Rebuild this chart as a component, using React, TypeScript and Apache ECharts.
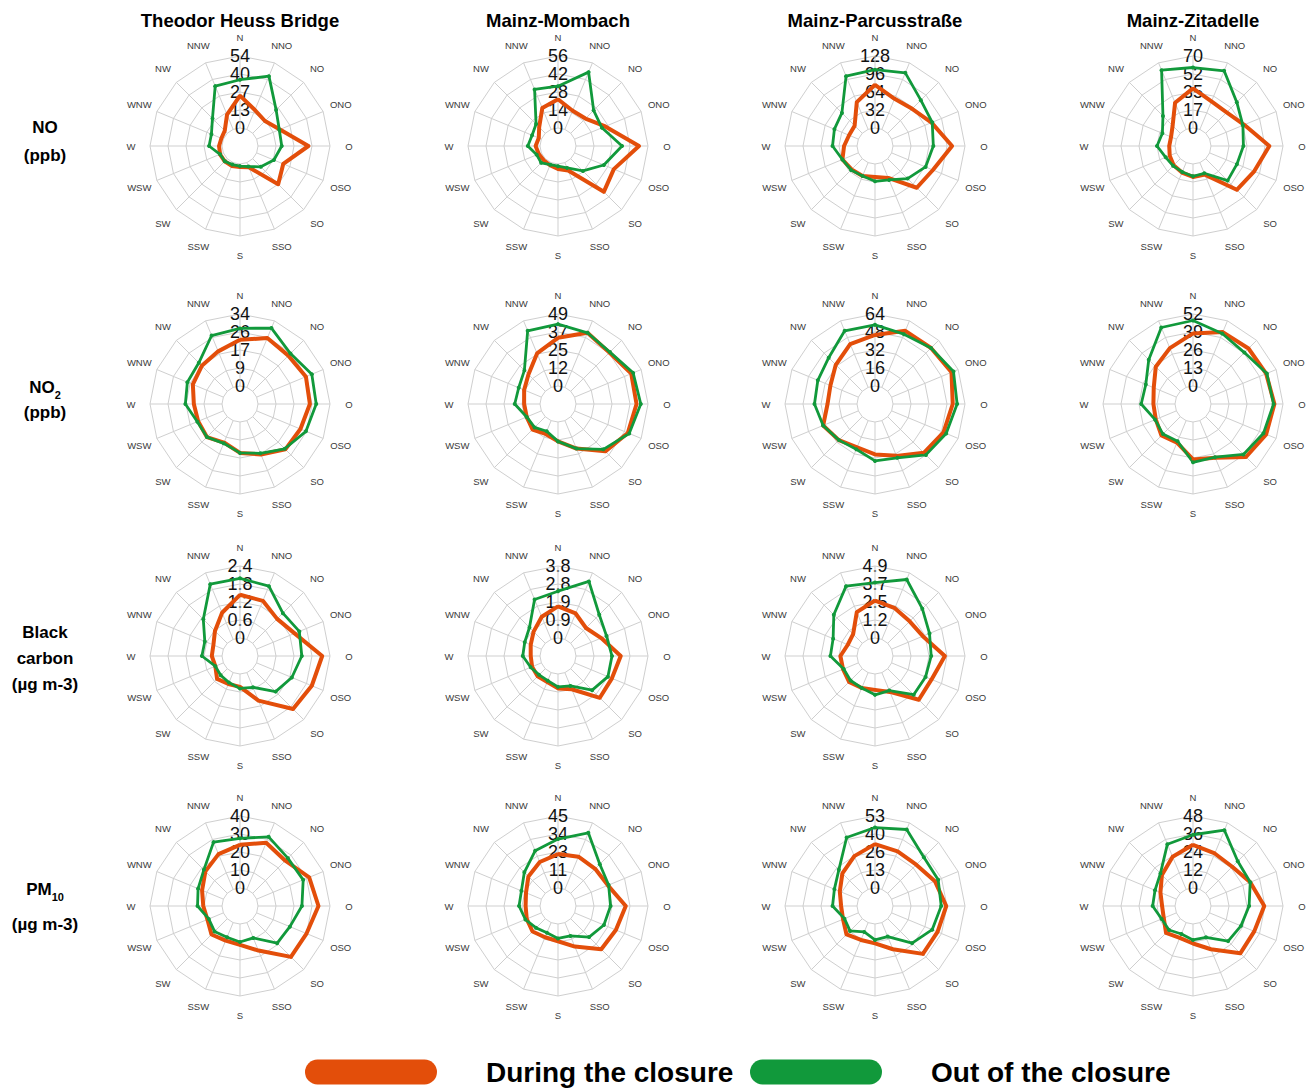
import React, { useEffect, useRef } from 'react';
import * as echarts from 'echarts';

// ---------- categories ----------
const DIRECTIONS = ['N', 'NNO', 'NO', 'ONO', 'O', 'OSO', 'SO', 'SSO', 'S', 'SSW', 'SW', 'WSW', 'W', 'WNW', 'NW', 'NNW'];
const STATIONS = ['Theodor Heuss Bridge', 'Mainz-Mombach', 'Mainz-Parcusstraße', 'Mainz-Zitadelle'];
const SERIES_NAMES = ['During the closure', 'Out of the closure'];

// ---------- NO (ppb) ----------
const noThbTicks = ['0', '13', '27', '40', '54'];
const noThbDuring = [24.3, 15.7, 13.0, 18.9, 37.8, 21.6, 27.0, 3.8, 2.2, 2.7, 2.7, 2.7, 2.2, 1.6, 2.7, 11.9];
const noThbOut = [36.2, 43.2, 24.8, 18.4, 17.8, 14.0, 8.6, 3.2, 1.6, 1.6, 2.7, 2.7, 9.7, 9.7, 15.7, 35.1];
const noMomTicks = ['0', '14', '28', '42', '56'];
const noMomDuring = [22.4, 15.7, 16.2, 25.8, 49.0, 33.0, 36.4, 6.7, 3.9, 2.2, 1.7, 2.2, 3.4, 2.2, 6.7, 17.9];
const noMomOut = [32.5, 48.2, 25.2, 23.0, 35.8, 24.6, 13.4, 4.5, 1.7, 1.7, 4.5, 3.9, 9.5, 7.8, 10.1, 33.6];
const noParTicks = ['0', '32', '64', '96', '128'];
const noParDuring = [76.8, 58.9, 61.4, 76.8, 105.0, 79.4, 73.0, 29.4, 23.0, 25.6, 26.9, 30.7, 23.0, 17.9, 19.2, 52.5];
const noParOut = [103.7, 108.8, 83.2, 78.1, 71.7, 65.3, 49.9, 33.3, 30.7, 25.6, 28.2, 30.7, 43.5, 46.1, 51.2, 102.4];
const noZitTicks = ['0', '17', '35', '52', '70'];
const noZitDuring = [38.5, 29.4, 28.7, 36.4, 56.7, 46.9, 42.7, 12.6, 12.6, 10.5, 9.1, 7.0, 5.6, 5.6, 10.5, 28.0];
const noZitOut = [58.8, 61.6, 42.7, 35.0, 31.5, 28.7, 30.1, 11.2, 11.9, 9.8, 9.8, 11.2, 17.5, 14.7, 23.8, 62.3];

// ---------- NO2 (ppb) ----------
const no2ThbTicks = ['0', '9', '17', '26', '34'];
const no2ThbDuring = [21.8, 25.2, 23.8, 25.2, 24.5, 22.4, 21.8, 17.3, 14.6, 11.2, 13.6, 12.9, 13.3, 15.6, 17.0, 18.4];
const no2ThbOut = [27.2, 30.3, 25.2, 28.2, 27.5, 25.2, 21.4, 16.7, 14.6, 11.6, 13.6, 13.3, 17.3, 18.4, 19.0, 26.5];
const no2MomTicks = ['0', '12', '25', '37', '49'];
const no2MomDuring = [32.8, 40.2, 37.2, 41.7, 41.2, 39.2, 33.3, 20.6, 13.2, 9.8, 12.3, 10.8, 10.8, 12.7, 16.2, 25.0];
const no2MomOut = [42.1, 40.2, 37.7, 43.1, 44.1, 40.2, 31.4, 20.6, 13.2, 7.8, 10.3, 10.8, 17.2, 16.7, 20.1, 41.7];
const no2ParTicks = ['0', '16', '32', '48', '64'];
const no2ParDuring = [45.4, 54.4, 54.4, 57.6, 53.1, 49.9, 45.4, 33.9, 28.8, 25.6, 29.4, 33.9, 26.2, 26.9, 33.3, 41.6];
const no2ParOut = [54.4, 51.2, 54.4, 59.5, 57.0, 52.5, 48.0, 35.8, 34.6, 27.5, 29.4, 33.9, 37.8, 39.0, 42.2, 54.4];
const no2ZitTicks = ['0', '13', '26', '39', '52'];
const no2ZitDuring = [38.0, 43.2, 43.7, 44.2, 45.8, 44.2, 41.1, 29.1, 27.0, 17.2, 19.2, 16.1, 15.6, 17.7, 25.0, 30.7];
const no2ZitOut = [47.3, 42.1, 39.5, 44.7, 45.2, 42.1, 38.5, 28.6, 29.1, 16.1, 17.7, 16.6, 24.4, 23.9, 32.2, 46.8];

// ---------- Black carbon (µg m-3) ----------
const bcThbTicks = ['0', '0.6', '1.2', '1.8', '2.4'];
const bcThbDuring = [1.44, 1.39, 1.15, 1.37, 2.14, 1.99, 1.90, 1.01, 0.43, 0.41, 0.48, 0.29, 0.34, 0.36, 0.58, 0.96];
const bcThbOut = [1.99, 1.92, 1.42, 1.54, 1.46, 1.27, 1.08, 0.53, 0.48, 0.36, 0.31, 0.29, 0.67, 0.67, 1.13, 1.99];
const bcMomTicks = ['0', '0.9', '1.9', '2.8', '3.8'];
const bcMomDuring = [1.67, 1.48, 1.14, 1.52, 2.36, 2.13, 2.17, 0.95, 0.76, 0.53, 0.57, 0.53, 0.49, 0.61, 0.87, 1.29];
const bcMomOut = [2.47, 3.31, 2.13, 1.82, 1.90, 1.90, 1.60, 0.76, 0.68, 0.46, 0.46, 0.61, 0.91, 0.95, 1.18, 2.28];
const bcParTicks = ['0', '1.2', '2.5', '3.7', '4.9'];
const bcParDuring = [2.55, 2.30, 2.11, 2.30, 3.53, 2.94, 2.99, 1.42, 1.08, 1.13, 1.27, 1.13, 1.13, 0.78, 0.88, 2.01];
const bcParOut = [3.77, 4.41, 3.33, 2.79, 2.60, 2.50, 2.50, 1.32, 1.42, 1.13, 1.13, 1.08, 1.81, 1.86, 2.74, 3.92];

// ---------- PM10 (µg m-3) ----------
const pmThbTicks = ['0', '10', '20', '30', '40'];
const pmThbDuring = [24.0, 28.0, 25.6, 31.6, 33.6, 30.0, 30.0, 16.8, 11.6, 10.8, 12.4, 9.6, 10.4, 12.8, 17.2, 21.2];
const pmThbOut = [27.6, 31.6, 27.6, 28.0, 24.4, 20.0, 19.2, 9.2, 10.0, 8.8, 10.0, 8.8, 13.6, 15.2, 18.4, 28.4];
const pmMomTicks = ['0', '11', '23', '34', '45'];
const pmMomDuring = [21.2, 22.1, 21.6, 22.5, 31.1, 27.9, 27.0, 16.2, 10.8, 9.9, 11.3, 9.9, 9.0, 10.4, 14.9, 18.5];
const pmMomOut = [30.6, 38.3, 25.7, 23.0, 21.6, 19.8, 16.2, 9.0, 9.0, 6.8, 8.1, 10.8, 13.1, 13.5, 18.5, 26.1];
const pmParTicks = ['0', '13', '26', '40', '53'];
const pmParDuring = [32.3, 30.2, 29.7, 34.5, 39.2, 36.6, 36.6, 21.2, 14.3, 13.8, 16.4, 12.2, 11.7, 14.8, 20.7, 26.5];
const pmParOut = [44.5, 47.7, 37.6, 37.1, 35.5, 32.3, 25.4, 11.1, 11.7, 7.4, 12.7, 11.1, 18.0, 19.1, 24.4, 41.3];
const pmZitTicks = ['0', '12', '24', '36', '48'];
const pmZitDuring = [28.8, 25.9, 25.0, 29.3, 35.5, 32.2, 32.6, 19.2, 13.0, 11.0, 13.4, 9.1, 8.6, 11.5, 17.3, 23.5];
const pmZitOut = [35.5, 42.7, 30.2, 29.3, 25.4, 22.6, 21.1, 10.6, 10.6, 8.2, 10.6, 10.6, 14.9, 15.4, 18.7, 32.6];

// ---------- panel table ----------
const PANELS = [
  { row: 0, col: 0, ticks: noThbTicks, during: noThbDuring, out: noThbOut },
  { row: 0, col: 1, ticks: noMomTicks, during: noMomDuring, out: noMomOut },
  { row: 0, col: 2, ticks: noParTicks, during: noParDuring, out: noParOut },
  { row: 0, col: 3, ticks: noZitTicks, during: noZitDuring, out: noZitOut },
  { row: 1, col: 0, ticks: no2ThbTicks, during: no2ThbDuring, out: no2ThbOut },
  { row: 1, col: 1, ticks: no2MomTicks, during: no2MomDuring, out: no2MomOut },
  { row: 1, col: 2, ticks: no2ParTicks, during: no2ParDuring, out: no2ParOut },
  { row: 1, col: 3, ticks: no2ZitTicks, during: no2ZitDuring, out: no2ZitOut },
  { row: 2, col: 0, ticks: bcThbTicks, during: bcThbDuring, out: bcThbOut },
  { row: 2, col: 1, ticks: bcMomTicks, during: bcMomDuring, out: bcMomOut },
  { row: 2, col: 2, ticks: bcParTicks, during: bcParDuring, out: bcParOut },
  { row: 3, col: 0, ticks: pmThbTicks, during: pmThbDuring, out: pmThbOut },
  { row: 3, col: 1, ticks: pmMomTicks, during: pmMomDuring, out: pmMomOut },
  { row: 3, col: 2, ticks: pmParTicks, during: pmParDuring, out: pmParOut },
  { row: 3, col: 3, ticks: pmZitTicks, during: pmZitDuring, out: pmZitOut },
];

// ---------- layout / style ----------
const COL_X = [240, 558, 875, 1193];
const ROW_Y = [146, 404, 656, 906];
const RADIUS = 90;
const INNER = 18;
const ORANGE = '#E34E0A';
const GREEN = '#11993B';
const GRID = '#cfcfcf';
const FONT = '"Liberation Sans", Arial, Helvetica, sans-serif';
const NARROW = '"Liberation Sans Narrow", "Arial Narrow", "Liberation Sans", Arial, sans-serif';

// ECharts radar runs counter-clockwise; re-order so directions go clockwise from N
const clockwiseOrder = (arr: any[]) => arr.map((_, i) => arr[(arr.length - i) % arr.length]);

export default function App() {
  const ref = useRef<HTMLDivElement>(null);

  useEffect(() => {
    if (!ref.current) return;
    const chart = echarts.init(ref.current, undefined, { renderer: 'svg' });

    const radars = PANELS.map((p) => {
      const max = parseFloat(p.ticks[p.ticks.length - 1]);
      const step = max / (p.ticks.length - 1);
      return {
        center: [COL_X[p.col], ROW_Y[p.row]],
        radius: RADIUS,
        startAngle: 90,
        shape: 'polygon',
        splitNumber: p.ticks.length,
        nameGap: 19,
        indicator: clockwiseOrder(DIRECTIONS).map((d: string, i: number) => ({
          name: d,
          min: -step,
          max,
          axisLabel: { show: i === 0 },
        })),
        axisName: {
          color: '#3a3a3a',
          fontSize: 9.5,
          fontFamily: FONT,
          align: 'center',
          verticalAlign: 'middle',
        },
        axisLine: { show: false },
        axisTick: { show: false },
        splitArea: { show: false },
        splitLine: { lineStyle: { color: GRID, width: 1 } },
        axisLabel: {
          show: false,
          margin: 0,
          fontSize: 18,
          fontFamily: FONT,
          color: '#111',
          align: 'center',
          verticalAlign: 'middle',
          showMinLabel: true,
          showMaxLabel: true,
          formatter: (v: number) => {
            const k = Math.round(v / step);
            return k >= 0 && k < p.ticks.length ? p.ticks[k] : '';
          },
        },
      };
    });

    const series = PANELS.map((p, idx) => ({
      type: 'radar',
      radarIndex: idx,
      symbol: 'circle',
      z: 3,
      data: [
        {
          name: SERIES_NAMES[0],
          value: clockwiseOrder(p.during),
          symbolSize: 3,
          lineStyle: { color: ORANGE, width: 4 },
          itemStyle: { color: ORANGE },
        },
        {
          name: SERIES_NAMES[1],
          value: clockwiseOrder(p.out),
          symbolSize: 4,
          lineStyle: { color: GREEN, width: 2.8 },
          itemStyle: { color: GREEN },
        },
      ],
    }));

    // spokes from the inner ring to the outer ring
    const spokes: any[] = [];
    PANELS.forEach((p) => {
      const cx = COL_X[p.col];
      const cy = ROW_Y[p.row];
      DIRECTIONS.forEach((_, k) => {
        const a = (k * 2 * Math.PI) / DIRECTIONS.length;
        spokes.push({
          type: 'line',
          z: 1,
          silent: true,
          shape: {
            x1: cx + INNER * Math.sin(a),
            y1: cy - INNER * Math.cos(a),
            x2: cx + RADIUS * Math.sin(a),
            y2: cy - RADIUS * Math.cos(a),
          },
          style: { stroke: GRID, lineWidth: 1 },
        });
      });
    });

    const titles = STATIONS.map((s, i) => ({
      type: 'text',
      x: COL_X[i],
      y: 20,
      z: 5,
      style: {
        text: s,
        fill: '#000',
        font: `bold 18.5px ${FONT}`,
        align: 'center',
        verticalAlign: 'middle',
      },
    }));

    const rowLabel = (text: string, y: number, rich?: any) => ({
      type: 'text',
      x: 45,
      y,
      z: 5,
      style: {
        text,
        fill: '#000',
        font: `bold 17px ${FONT}`,
        align: 'center',
        verticalAlign: 'middle',
        rich,
      },
    });
    const subRich = {
      m: { fontSize: 17, fontWeight: 'bold', fontFamily: FONT, fill: '#000', verticalAlign: 'bottom', lineHeight: 20 },
      s: { fontSize: 11, fontWeight: 'bold', fontFamily: FONT, fill: '#000', verticalAlign: 'bottom', lineHeight: 20, padding: [0, 0, -4, 0] },
    };
    const rowLabels = [
      rowLabel('NO', 127),
      rowLabel('(ppb)', 155),
      rowLabel('{m|NO}{s|2}', 386, subRich),
      rowLabel('(ppb)', 412),
      rowLabel('Black', 632),
      rowLabel('carbon', 658),
      rowLabel('(µg m-3)', 684),
      rowLabel('{m|PM}{s|10}', 888, subRich),
      rowLabel('(µg m-3)', 924),
    ];

    const pill = 'path://M12.5,0 L119.5,0 A12.5,12.5 0 0 1 119.5,25 L12.5,25 A12.5,12.5 0 0 1 12.5,0 Z';
    const legendBase = {
      top: 1058,
      orient: 'horizontal',
      icon: pill,
      itemWidth: 132,
      itemHeight: 25,
      itemGap: 0,
      padding: 0,
      textStyle: {
        fontSize: 28,
        fontWeight: 'bold',
        fontFamily: NARROW,
        color: '#000',
        padding: [0, 0, 14, 44],
      },
    };

    chart.setOption({
      animation: false,
      backgroundColor: '#ffffff',
      legend: [
        { ...legendBase, left: 305, data: [SERIES_NAMES[0]] },
        { ...legendBase, left: 750, data: [SERIES_NAMES[1]] },
      ],
      radar: radars,
      series,
      graphic: { elements: [...spokes, ...titles, ...rowLabels] },
    });

    return () => chart.dispose();
  }, []);

  return (
    <div
      ref={ref}
      style={{ position: 'absolute', left: 0, top: 0, width: 1314, height: 1088 }}
    />
  );
}
